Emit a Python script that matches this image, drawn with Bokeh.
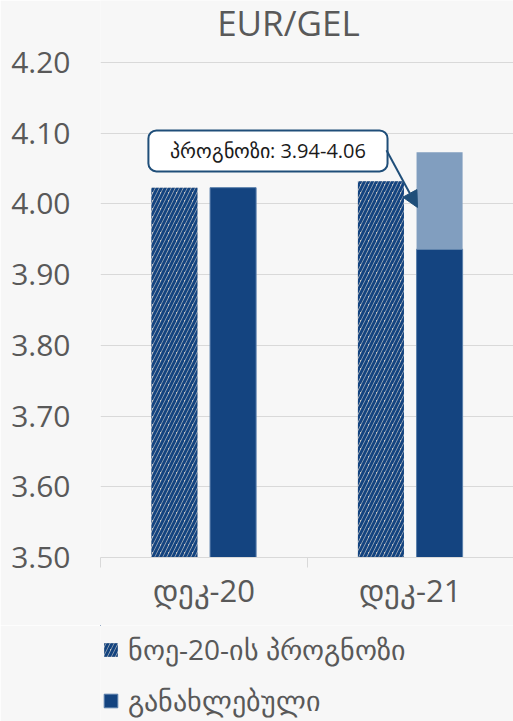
from bokeh.plotting import figure
from bokeh.layouts import column
from bokeh.models import (Range1d, FixedTicker, Legend, LegendItem, BoxAnnotation,
                          Label, Arrow, NormalHead, ColumnDataSource)
from bokeh.embed import file_html
from bokeh.resources import INLINE

# ---- data ----
categories = ["დეკ-20", "დეკ-21"]
forecast_nov20 = [4.023, 4.032]          # ნოე-20-ის პროგნოზი (hatched)
updated = [4.023, 3.936]                 # განახლებული (solid)
range_low = [3.936]                      # forecast range for დეკ-21
range_high = [4.073]
range_cat = [1]
y_ticks = [3.50, 3.60, 3.70, 3.80, 3.90, 4.00, 4.10, 4.20]
callout_text = "პროგნოზი: 3.94-4.06"
legend_labels = ["ნოე-20-ის პროგნოზი", "განახლებული"]
title_text = "EUR/GEL"

FONT = "Open Sans"
GRAY = "#595959"
BG = "#f7f7f7"
DARK = "#144480"
LIGHT = "#819ebf"
HATCH_BG = "#c6c6c6"
CALLOUT = "#1f4e79"

centers = [i + 0.5 for i in range(len(categories))]
off = 0.142
bw = 0.223

hatch_style = dict(fill_color=HATCH_BG, line_color=None, hatch_pattern="/",
                   hatch_color=DARK, hatch_scale=8, hatch_weight=3)
solid_style = dict(fill_color=DARK, line_color="#5a7fab", line_width=1)

# frame spans from the top of the canvas; the extra headroom holds the title
PX_PER_UNIT = 495 / (y_ticks[-1] - y_ticks[0])
y_top = y_ticks[-1] + 62 / PX_PER_UNIT

p = figure(width=513, height=625, x_range=Range1d(0, len(categories)),
           y_range=Range1d(y_ticks[0], y_top), output_backend="svg",
           toolbar_location=None, min_border_left=100, min_border_right=0,
           min_border_top=0, min_border_bottom=68)
p.background_fill_color = BG
p.border_fill_color = BG
p.outline_line_color = None

# title as a label in the headroom
p.add_layout(Label(x=0.91, y=y_ticks[-1] + 40 / PX_PER_UNIT, text=title_text,
                   text_align="center", text_baseline="alphabetic",
                   text_font=FONT, text_font_size="35px", text_color=GRAY))

src_f = ColumnDataSource(dict(x=[c - off for c in centers], top=forecast_nov20))
src_u = ColumnDataSource(dict(x=[c + off for c in centers], top=updated))
src_r = ColumnDataSource(dict(x=[centers[i] + off for i in range_cat], bottom=range_low, top=range_high))

p.vbar(x="x", top="top", bottom=y_ticks[0], width=bw, source=src_f, **hatch_style)
p.vbar(x="x", top="top", bottom=y_ticks[0], width=bw, source=src_u, **solid_style)
p.vbar(x="x", top="top", bottom="bottom", width=bw, source=src_r,
       fill_color=LIGHT, line_color=None)

# y axis
p.yaxis.ticker = FixedTicker(ticks=y_ticks)
p.yaxis.major_label_overrides = {t: f"{t:.2f}" for t in y_ticks}
p.yaxis.axis_line_color = None
p.yaxis.major_tick_line_color = None
p.yaxis.minor_tick_line_color = None
p.yaxis.major_label_text_font = FONT
p.yaxis.major_label_text_font_size = "30px"
p.yaxis.major_label_text_color = GRAY
p.yaxis.major_label_standoff = 24

p.ygrid.ticker = FixedTicker(ticks=y_ticks)
p.ygrid.grid_line_color = "#d9d9d9"
p.ygrid.grid_line_width = 1
p.xgrid.grid_line_color = None

# x axis: labels at centers, ticks at boundaries
p.xaxis.ticker = FixedTicker(ticks=centers, minor_ticks=list(range(len(categories) + 1)))
p.xaxis.major_label_overrides = {c: lab for c, lab in zip(centers, categories)}
p.xaxis.axis_line_color = "#d9d9d9"
p.xaxis.axis_line_width = 1
p.xaxis.major_tick_line_color = None
p.xaxis.major_tick_out = 0
p.xaxis.major_tick_in = 0
p.xaxis.minor_tick_line_color = "#d9d9d9"
p.xaxis.minor_tick_out = 10
p.xaxis.minor_tick_in = 0
p.xaxis.major_label_text_font = FONT
p.xaxis.major_label_text_font_size = "31px"
p.xaxis.major_label_text_color = GRAY
p.xaxis.major_label_standoff = 1

# callout
box = BoxAnnotation(left=0.232, right=1.39, bottom=4.046, top=4.104,
                    fill_color="white", fill_alpha=1, line_color=CALLOUT, line_alpha=1,
                    line_width=2, border_radius=8)
p.add_layout(box)
p.add_layout(Label(x=0.811, y=4.075, text=callout_text, text_align="center",
                   text_baseline="middle", text_font=FONT, text_font_size="20px",
                   text_color="#1a1a1a"))
p.add_layout(Arrow(x_start=1.385, y_start=4.076, x_end=1.535, y_end=3.995,
                   line_color=CALLOUT, line_width=2,
                   end=NormalHead(size=16, fill_color=CALLOUT, line_color=CALLOUT)))

# ---- legend strip (frame aligned with main plot's frame) ----
lf = figure(width=513, height=96, x_range=Range1d(10, 11), y_range=Range1d(0, 1),
            output_backend="svg", toolbar_location=None,
            min_border_left=0, min_border_right=0, min_border_top=0, min_border_bottom=0)
lf.axis.visible = False
lf.grid.visible = False
lf.background_fill_color = BG
lf.border_fill_color = BG
lf.outline_line_color = None
# same sources; values lie outside this strip's ranges, so only the legend shows
lr_f = lf.vbar(x="x", top="top", bottom=y_ticks[0], width=bw, source=src_f, **hatch_style)
lr_u = lf.vbar(x="x", top="top", bottom=y_ticks[0], width=bw, source=src_u, **solid_style)

legend = Legend(items=[LegendItem(label=legend_labels[0], renderers=[lr_f]),
                       LegendItem(label=legend_labels[1], renderers=[lr_u])],
                location=(2, 2), orientation="vertical",
                background_fill_alpha=0, border_line_color=None,
                padding=0, margin=0, spacing=13, glyph_width=17, glyph_height=17,
                label_standoff=9, label_text_font=FONT, label_text_font_size="28px",
                label_text_color=GRAY)
lf.add_layout(legend)

layout = column(p, lf, spacing=0)
open("out.html", "w").write(file_html(layout, INLINE))
